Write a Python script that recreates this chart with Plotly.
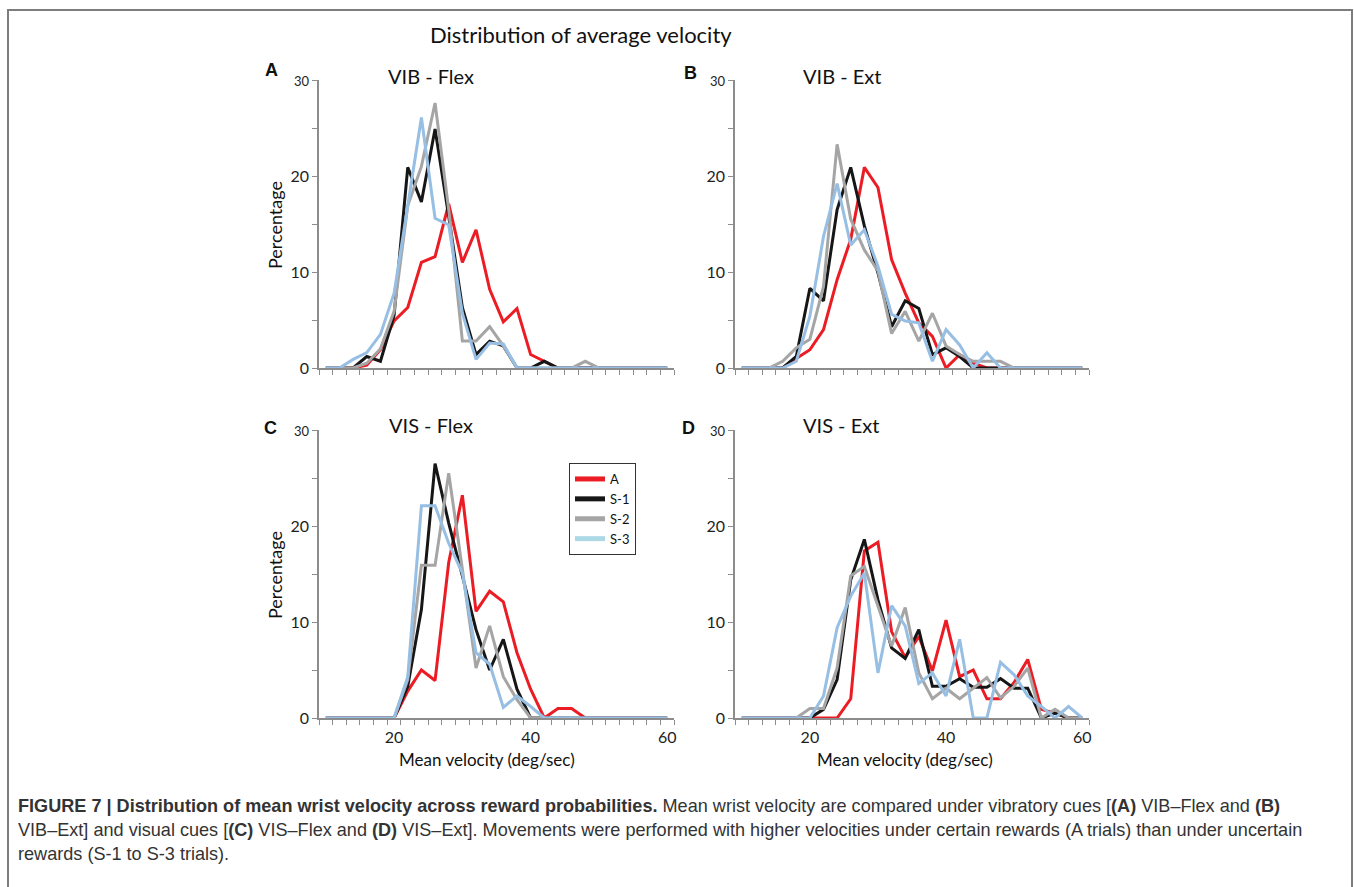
import plotly.graph_objects as go

W, H = 1354, 887

velocity = [10, 12, 14, 16, 18, 20, 22, 24, 26, 28, 30, 32, 34, 36, 38, 40,
            42, 44, 46, 48, 50, 52, 54, 56, 58, 60]

series_names = ["A", "S-1", "S-2", "S-3"]
panel_titles = ["VIB - Flex", "VIB - Ext", "VIS - Flex", "VIS - Ext"]
panel_letters = ["A", "B", "C", "D"]

# Panel A: VIB - Flex
vib_flex_A  = [0, 0, 0, 0.3, 1.9, 4.9, 6.3, 11.0, 11.6, 17.1, 11.0, 14.4, 8.2, 4.8, 6.2, 1.4, 0.7, 0, 0, 0, 0, 0, 0, 0, 0, 0]
vib_flex_S1 = [0, 0, 0, 1.2, 0.7, 5.5, 20.9, 17.3, 24.9, 15.8, 6.3, 1.4, 2.8, 2.3, 0, 0, 0.7, 0, 0, 0, 0, 0, 0, 0, 0, 0]
vib_flex_S2 = [0, 0, 0, 0.5, 2.0, 5.9, 16.9, 21.0, 27.6, 16.5, 2.8, 2.8, 4.3, 2.3, 0, 0, 0, 0, 0, 0.7, 0, 0, 0, 0, 0, 0]
vib_flex_S3 = [0, 0, 0.9, 1.6, 3.5, 7.8, 16.9, 26.1, 15.6, 14.9, 5.7, 0.9, 2.6, 2.5, 0, 0, 0, 0, 0, 0, 0, 0, 0, 0, 0, 0]

# Panel B: VIB - Ext
vib_ext_A  = [0, 0, 0, 0, 1.0, 1.9, 4.0, 9.2, 13.4, 20.9, 18.8, 11.3, 7.8, 4.7, 3.3, 0, 1.4, 0.5, 0, 0, 0, 0, 0, 0, 0, 0]
vib_ext_S1 = [0, 0, 0, 0, 1.2, 8.3, 7.0, 16.5, 20.9, 14.8, 9.9, 4.3, 7.0, 6.2, 1.4, 2.1, 1.2, 0, 0, 0, 0, 0, 0, 0, 0, 0]
vib_ext_S2 = [0, 0, 0, 0.7, 2.1, 3.0, 8.5, 23.3, 15.5, 12.3, 10.1, 3.6, 5.9, 2.8, 5.7, 2.3, 1.4, 0.7, 0.7, 0.7, 0, 0, 0, 0, 0, 0]
vib_ext_S3 = [0, 0, 0, 0, 0.7, 5.4, 13.7, 19.2, 12.8, 14.4, 10.6, 5.6, 4.9, 4.7, 0.7, 4.0, 2.4, 0, 1.6, 0, 0, 0, 0, 0, 0, 0]

# Panel C: VIS - Flex
vis_flex_A  = [0, 0, 0, 0, 0, 0, 2.8, 5.0, 3.9, 16.2, 23.2, 11.1, 13.2, 12.1, 6.8, 3.0, 0, 1.0, 1.0, 0, 0, 0, 0, 0, 0, 0]
vis_flex_S1 = [0, 0, 0, 0, 0, 0, 3.3, 11.3, 26.5, 20.3, 14.8, 9.2, 5.0, 8.2, 3.0, 0, 0, 0, 0, 0, 0, 0, 0, 0, 0, 0]
vis_flex_S2 = [0, 0, 0, 0, 0, 0, 4.0, 15.9, 15.9, 25.5, 15.5, 5.2, 9.6, 4.3, 1.9, 0, 0, 0, 0, 0, 0, 0, 0, 0, 0, 0]
vis_flex_S3 = [0, 0, 0, 0, 0, 0, 4.3, 22.1, 22.1, 18.2, 15.1, 6.8, 5.6, 1.1, 2.3, 1.2, 0, 0, 0, 0, 0, 0, 0, 0, 0, 0]

# Panel D: VIS - Ext
vis_ext_A  = [0, 0, 0, 0, 0, 0, 0, 0, 2.0, 17.4, 18.3, 9.0, 6.3, 8.5, 4.9, 10.2, 4.3, 5.0, 2.0, 2.0, 3.7, 6.1, 0.9, 0.5, 0, 0]
vis_ext_S1 = [0, 0, 0, 0, 0, 0, 0.9, 4.0, 14.4, 18.6, 12.3, 7.3, 6.2, 9.2, 3.3, 3.3, 4.1, 3.2, 3.2, 4.1, 3.1, 3.1, 0, 0.5, 0, 0]
vis_ext_S2 = [0, 0, 0, 0, 0, 1.0, 1.0, 5.2, 14.8, 15.8, 11.7, 7.5, 11.5, 4.7, 2.0, 3.1, 2.0, 3.1, 4.2, 2.1, 3.3, 5.2, 0, 0.9, 0, 0]
vis_ext_S3 = [0, 0, 0, 0, 0, 0, 2.3, 9.4, 12.7, 15.1, 4.7, 11.7, 9.6, 3.6, 4.7, 2.3, 8.2, 0, 0, 5.8, 4.5, 2.3, 1.2, 0, 1.2, 0]

panels = [
    [vib_flex_A, vib_flex_S1, vib_flex_S2, vib_flex_S3],
    [vib_ext_A, vib_ext_S1, vib_ext_S2, vib_ext_S3],
    [vis_flex_A, vis_flex_S1, vis_flex_S2, vis_flex_S3],
    [vis_ext_A, vis_ext_S1, vis_ext_S2, vis_ext_S3],
]

colors = ["#EC1C24", "#161616", "#A5A5A5", "#97BFE4"]
legend_colors = ["#EC1C24", "#161616", "#A5A5A5", "#ADD8E6"]

FONT = "Lato, 'Open Sans', sans-serif"
AXIS_COLOR = "#8C8C8C"


def px_x(p):
    return p / W


def px_y(p):
    return 1 - p / H


# panel pixel boxes: (left, right, top, bottom)
boxes = [
    (319, 674, 80, 368),
    (735, 1089, 80, 368),
    (319, 674, 430, 718),
    (735, 1089, 430, 718),
]

fig = go.Figure()

for i, (data, box) in enumerate(zip(panels, boxes)):
    n = i + 1
    xa = "x" if n == 1 else f"x{n}"
    ya = "y" if n == 1 else f"y{n}"
    for j, vals in enumerate(data):
        fig.add_trace(go.Scatter(
            x=velocity, y=vals, mode="lines",
            line=dict(color=colors[j], width=3),
            name=series_names[j],
            showlegend=False,
            xaxis=xa, yaxis=ya,
        ))
    l, r, t, b = box
    xkey = "xaxis" if n == 1 else f"xaxis{n}"
    ykey = "yaxis" if n == 1 else f"yaxis{n}"
    bottom_row = n in (3, 4)
    fig.update_layout(**{
        xkey: dict(
            domain=[px_x(l), px_x(r)], anchor=ya, range=[9, 61],
            automargin=False,
            showline=True, linecolor=AXIS_COLOR, linewidth=1.5,
            tickmode="array", tickvals=[20, 40, 60],
            ticks="outside", ticklen=4, tickcolor="rgba(0,0,0,0)",
            showticklabels=bottom_row,
            tickfont=dict(family=FONT, size=16, color="#1e1e1e"),
            minor=dict(tickmode="array", tickvals=list(range(9, 62, 2)),
                       ticks="outside", ticklen=5, tickcolor=AXIS_COLOR, tickwidth=1),
            showgrid=False, zeroline=False, fixedrange=True,
        ),
        ykey: dict(
            domain=[px_y(b), px_y(t)], anchor=xa, range=[0, 30],
            automargin=False,
            showline=True, linecolor=AXIS_COLOR, linewidth=1.5,
            tickmode="array", tickvals=[0, 10, 20, 30],
            ticktext=["0", "10", "20", "<span style='font-size:13px'>30</span>"],
            ticks="outside", ticklen=5, tickcolor=AXIS_COLOR, tickwidth=1,
            tickfont=dict(family=FONT, size=16, color="#1e1e1e"),
            minor=dict(tickmode="array", tickvals=[5, 15, 25],
                       ticks="outside", ticklen=5, tickcolor=AXIS_COLOR, tickwidth=1),
            showgrid=False, zeroline=False, fixedrange=True,
        ),
    })

# legend entries (drawn in panel C style)
for j, name in enumerate(series_names):
    fig.add_trace(go.Scatter(
        x=[None], y=[None], mode="lines",
        line=dict(color=legend_colors[j], width=5),
        name=name, showlegend=True, xaxis="x3", yaxis="y3",
    ))

annotations = []

# main title
annotations.append(dict(text="Distribution of average velocity", x=px_x(581), y=px_y(35),
                        xref="paper", yref="paper", showarrow=False,
                        xanchor="center", yanchor="middle",
                        font=dict(family=FONT, size=22, color="#111")))

title_pos = [(431, 76), (842, 76), (431, 425), (841, 425)]
letter_pos = [(271, 70), (690, 73), (270, 428), (689, 428)]
for i in range(4):
    annotations.append(dict(text=panel_titles[i], x=px_x(title_pos[i][0]), y=px_y(title_pos[i][1]),
                            xref="paper", yref="paper", showarrow=False,
                            xanchor="center", yanchor="middle",
                            font=dict(family=FONT, size=20, color="#111")))
    annotations.append(dict(text=f"<b>{panel_letters[i]}</b>", x=px_x(letter_pos[i][0]), y=px_y(letter_pos[i][1]),
                            xref="paper", yref="paper", showarrow=False,
                            xanchor="center", yanchor="middle",
                            font=dict(family="Liberation Sans, Arial, sans-serif", size=18, color="#111")))

for yc in (225, 575):
    annotations.append(dict(text="Percentage", x=px_x(275), y=px_y(yc), textangle=-90,
                            xref="paper", yref="paper", showarrow=False,
                            xanchor="center", yanchor="middle",
                            font=dict(family=FONT, size=18, color="#111")))

for xc in (487, 905):
    annotations.append(dict(text="Mean velocity (deg/sec)", x=px_x(xc), y=px_y(759),
                            xref="paper", yref="paper", showarrow=False,
                            xanchor="center", yanchor="middle",
                            font=dict(family=FONT, size=17, color="#111")))

caption_lines = [
    "<b>FIGURE 7 | Distribution of mean wrist velocity across reward probabilities.</b> Mean wrist velocity are compared under vibratory cues [<b>(A)</b> VIB–Flex and <b>(B)</b>",
    "VIB–Ext] and visual cues [<b>(C)</b> VIS–Flex and <b>(D)</b> VIS–Ext]. Movements were performed with higher velocities under certain rewards (A trials) than under uncertain",
    "rewards (S-1 to S-3 trials).",
]
caption_y = [806, 830, 854]
for line, yc in zip(caption_lines, caption_y):
    annotations.append(dict(text=line, x=px_x(16), y=px_y(yc),
                            xref="paper", yref="paper", showarrow=False,
                            xanchor="left", yanchor="middle",
                            font=dict(family="'Liberation Sans', Arial, sans-serif",
                                      size=18.1, color="#333")))

fig.update_layout(
    template="none",
    width=W, height=H, autosize=False,
    margin=dict(l=0, r=0, t=0, b=0, pad=0, autoexpand=False),
    paper_bgcolor="white", plot_bgcolor="white",
    annotations=annotations,
    showlegend=True,
    legend=dict(x=px_x(569), y=px_y(463), xanchor="left", yanchor="top",
                bgcolor="white", bordercolor="#333", borderwidth=1,
                font=dict(family=FONT, size=13, color="#111"),
                tracegroupgap=0, itemwidth=30),
    shapes=[dict(type="rect", xref="paper", yref="paper",
                 x0=px_x(8), x1=px_x(1352), y0=-0.05, y1=px_y(10),
                 line=dict(color="#7d7d7d", width=2))],
)

fig.write_html("out.html")
